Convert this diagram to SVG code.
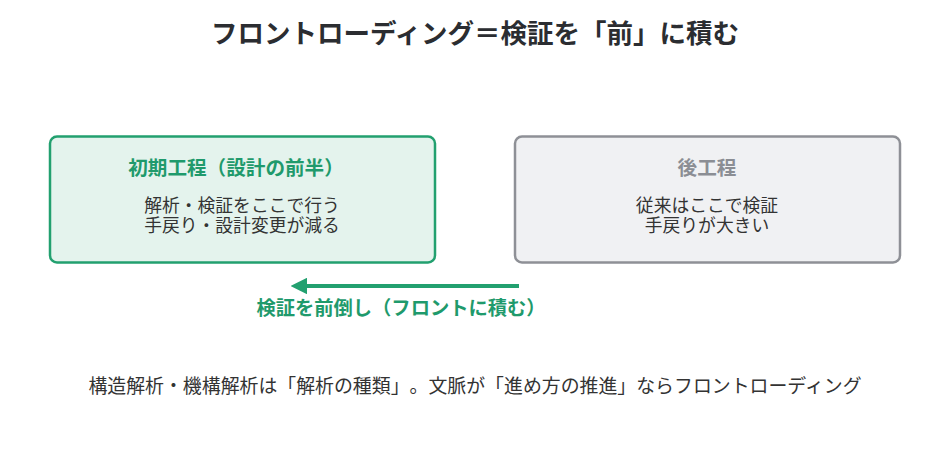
<svg xmlns="http://www.w3.org/2000/svg" width="950" height="451" viewBox="0 0 950 451">
<style>
text{font-family:"Noto Sans CJK JP","Noto Sans",sans-serif;text-anchor:middle;text-spacing-trim:space-all}
.title{font-size:26.5px;font-weight:700;fill:#2b2d31}
.h{font-size:19.6px;font-weight:700}
.b{font-size:17.8px;fill:#333333}
.foot{font-size:18.9px;fill:#333333}
.g{fill:#1f9a6c}
.gr{fill:#8b8e94}
</style>
<defs>
<marker id="ah" viewBox="0 0 10 10" refX="2" refY="5" markerWidth="4.2" markerHeight="4.2" orient="auto-start-reverse" markerUnits="strokeWidth">
<path d="M0,0 L10,5 L0,10 z" fill="#22a06f"/>
</marker>
</defs>
<rect width="950" height="451" fill="#ffffff"/>
<text class="title" x="475" y="43">フロントローディング＝検証を「前」に積む</text>
<g id="early">
<rect x="50" y="136.5" width="385" height="126" rx="7" fill="#e4f3ed" stroke="#22a06f" stroke-width="2.5"/>
<text class="h g" x="236" y="175">初期工程（設計の前半）</text>
<text class="b" x="242" y="212">解析・検証をここで行う</text>
<text class="b" x="242" y="232">手戻り・設計変更が減る</text>
</g>
<g id="late">
<rect x="515" y="136.5" width="385" height="126" rx="7" fill="#f0f1f3" stroke="#8e9096" stroke-width="2.5"/>
<text class="h gr" x="707" y="175">後工程</text>
<text class="b" x="707" y="212">従来はここで検証</text>
<text class="b" x="707" y="232">手戻りが大きい</text>
</g>
<g id="connectors">
<line x1="519" y1="286" x2="304" y2="286" stroke="#22a06f" stroke-width="4" marker-end="url(#ah)"/>
<text class="h g" x="401" y="315" style="font-size:19.3px">検証を前倒し（フロントに積む）</text>
</g>
<text class="foot" x="475" y="393">構造解析・機構解析は「解析の種類」。文脈が「進め方の推進」ならフロントローディング</text>
</svg>
